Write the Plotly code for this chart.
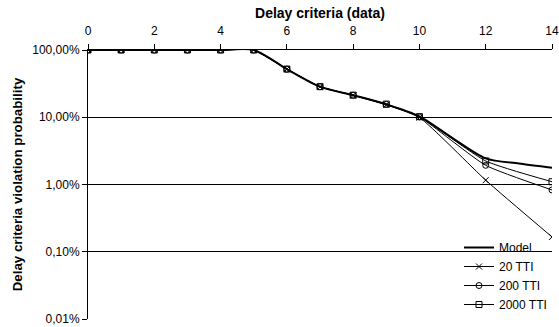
import plotly.graph_objects as go

x_model = [0, 1, 2, 3, 4, 5, 6, 7, 8, 9, 10, 11, 12, 13, 14]
model = [100, 100, 100, 100, 100, 100, 52, 28.5, 21.3, 15.6, 10.3, 4.9, 2.45, 2.05, 1.78]

x_sim = [0, 1, 2, 3, 4, 5, 6, 7, 8, 9, 10, 12, 14]
tti20 = [100, 100, 100, 100, 100, 100, 52, 28.3, 21.2, 15.3, 9.9, 1.16, 0.166]
tti200 = [100, 100, 100, 100, 100, 100, 52, 28.4, 21.3, 15.5, 10.1, 1.93, 0.83]
tti2000 = [100, 100, 100, 100, 100, 100, 52, 28.5, 21.3, 15.7, 10.2, 2.24, 1.10]

y_tickvals = [0.01, 0.1, 1, 10, 100]
y_ticktext = ["0,01%", "0,10%", "1,00%", "10,00%", "100,00%"]
x_tickvals = [0, 2, 4, 6, 8, 10, 12, 14]

fig = go.Figure()
fig.add_trace(go.Scatter(x=x_model, y=model, name="Model", mode="lines",
                         line=dict(color="black", width=2, shape="spline", smoothing=0.8)))
fig.add_trace(go.Scatter(x=x_sim, y=tti20, name="20 TTI", mode="lines+markers",
                         line=dict(color="black", width=1, shape="spline", smoothing=0.5),
                         marker=dict(symbol="x-thin-open", size=6, color="black",
                                     line=dict(color="black", width=1))))
fig.add_trace(go.Scatter(x=x_sim, y=tti200, name="200 TTI", mode="lines+markers",
                         line=dict(color="black", width=1, shape="spline", smoothing=0.5),
                         marker=dict(symbol="circle-open", size=6, color="black",
                                     line=dict(color="black", width=1))))
fig.add_trace(go.Scatter(x=x_sim, y=tti2000, name="2000 TTI", mode="lines+markers",
                         line=dict(color="black", width=1, shape="spline", smoothing=0.5),
                         marker=dict(symbol="square-open", size=6, color="black",
                                     line=dict(color="black", width=1))))

fig.update_layout(
    width=559, height=327,
    margin=dict(l=88, r=7, t=50, b=8, autoexpand=False),
    paper_bgcolor="white", plot_bgcolor="white",
    font=dict(family="Liberation Sans, Arial, sans-serif", size=12, color="black"),
    showlegend=True,
    legend=dict(x=1, y=0.0, xanchor="right", yanchor="bottom",
                bgcolor="rgba(255,255,255,0)", font=dict(size=12),
                tracegroupgap=0, itemwidth=30),
    xaxis=dict(side="top", range=[0, 14], tickvals=x_tickvals, automargin=False,
               ticks="outside", ticklen=5, tickcolor="black", ticklabelstandoff=4,
               ticklabeloverflow="allow",
               showgrid=False, zeroline=False, showline=True, linecolor="black",
               linewidth=1,
               title=dict(text="<b>Delay criteria (data)</b>", font=dict(size=14), standoff=2)),
    yaxis=dict(type="log", range=[-2, 2], tickvals=y_tickvals, ticktext=y_ticktext,
               automargin=False,
               ticks="outside", ticklen=5, tickcolor="black",
               showgrid=True, gridcolor="black", gridwidth=1,
               zeroline=False, showline=True, linecolor="black", linewidth=1,
               title=dict(text="<b>Delay criteria violation probability</b>",
                          font=dict(size=13.3), standoff=6)),
)

fig.write_html("out.html")
